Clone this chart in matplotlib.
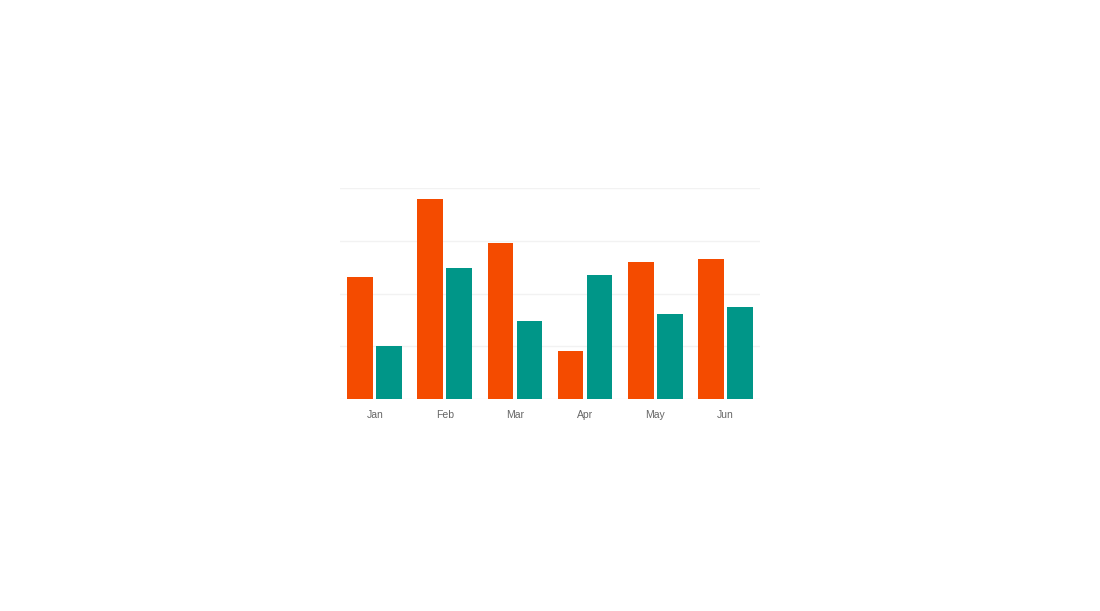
import matplotlib.pyplot as plt
import numpy as np

plt.rcParams['font.family'] = ['Liberation Sans', 'DejaVu Sans']

months = ['Jan', 'Feb', 'Mar', 'Apr', 'May', 'Jun']
series_a = [58, 95, 74, 23, 65, 66.5]
series_b = [25, 62, 37, 59, 40.5, 43.5]

fig = plt.figure(figsize=(11, 6.11), dpi=100)
ax = fig.add_axes([0.309, 0.347, 0.382, 0.345])

x = np.arange(len(months))
w = 0.37
ax.bar(x - 0.207, series_a, width=w, color='#F44B00', zorder=2)
ax.bar(x + 0.207, series_b, width=w, color='#009688', zorder=2)

ax.set_xlim(-0.5, len(months) - 0.5)
ax.set_ylim(0, 100)
ax.set_yticks([0, 25, 50, 75, 100])
ax.set_yticklabels([])
ax.tick_params(axis='y', length=0)
ax.grid(axis='y', color='#f2f2f2', linewidth=1, zorder=0)
ax.set_xticks(x)
ax.set_xticklabels(months, fontsize=7.5, color='#666666')
ax.tick_params(axis='x', length=0, pad=8)
for s in ax.spines.values():
    s.set_visible(False)

fig.savefig('out.png', dpi=100)
